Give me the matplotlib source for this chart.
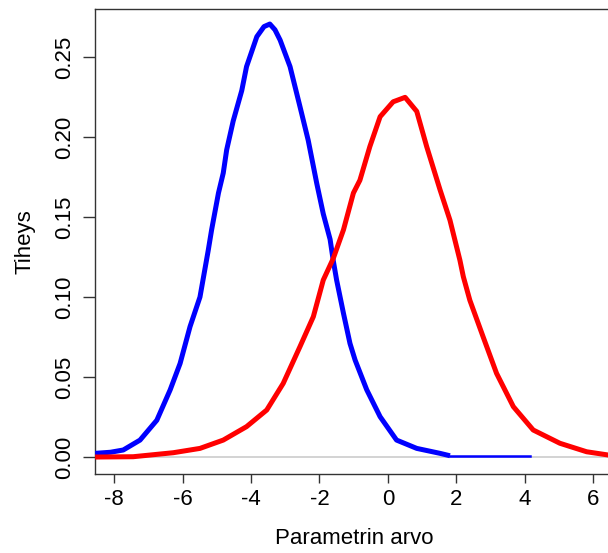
import matplotlib
matplotlib.use("Agg")
import matplotlib.pyplot as plt

plt.rcParams['font.family'] = ['Liberation Sans', 'DejaVu Sans']

# Blue density
blue_x = [-8.55, -8.1, -7.73, -7.24, -6.75, -6.36, -6.07, -5.78, -5.49, -5.25, -5.15, -4.95, -4.81,
          -4.71, -4.52, -4.27, -4.13, -3.83, -3.62, -3.45, -3.30, -3.15, -2.86, -2.57, -2.33, -2.08, -1.89,
          -1.69, -1.60, -1.50, -1.30, -1.11, -0.96, -0.62, -0.23, 0.25, 0.84, 1.52, 1.81]
blue_y = [0.0023, 0.0030, 0.0044, 0.0106, 0.023, 0.042, 0.0585, 0.0815, 0.100, 0.129, 0.142, 0.165, 0.1775,
          0.192, 0.210, 0.229, 0.244, 0.2627, 0.2690, 0.2706, 0.2670, 0.2606, 0.244, 0.219, 0.198, 0.171, 0.152,
          0.136, 0.123, 0.1106, 0.0898, 0.071, 0.0606, 0.042, 0.0252, 0.0106, 0.0054, 0.0023, 0.0008]
# Thin blue tail
blue_tail_x = [1.81, 4.15]
blue_tail_y = [0.0008, 0.0008]

# Red density
red_x = [-8.55, -7.44, -6.27, -5.49, -4.81, -4.13, -3.54, -3.06, -2.57, -2.18, -1.89, -1.60,
         -1.30, -1.01, -0.82, -0.53, -0.23, 0.15, 0.50, 0.84, 1.13, 1.52, 1.81, 2.10, 2.20,
         2.39, 2.78, 3.17, 3.66, 4.24, 5.02, 5.80, 6.42, 6.60]
red_y = [0.0, 0.0002, 0.0027, 0.0054, 0.0106, 0.019, 0.0294, 0.046, 0.069, 0.0877, 0.1106, 0.124,
         0.142, 0.165, 0.173, 0.194, 0.2127, 0.222, 0.2248, 0.216, 0.194, 0.167, 0.148, 0.123, 0.1127,
         0.098, 0.075, 0.0523, 0.0315, 0.0169, 0.0086, 0.0033, 0.0013, 0.0010]

x_ticks = [-8, -6, -4, -2, 0, 2, 4, 6]
y_ticks = [0.00, 0.05, 0.10, 0.15, 0.20, 0.25]
y_tick_labels = ["0.00", "0.05", "0.10", "0.15", "0.20", "0.25"]

W, H = 608, 553
fig = plt.figure(figsize=(W / 100, H / 100), dpi=100)
ax = fig.add_axes([95 / W, (H - 474) / H, 518 / W, 465 / H])

ax.axhline(0, color='#cccccc', lw=1.2, zorder=1)
ax.plot(blue_x, blue_y, color='#0000ff', lw=3.6, solid_joinstyle='round', solid_capstyle='butt', zorder=3)
ax.plot(blue_tail_x, blue_tail_y, color='#0000ff', lw=1.8, zorder=3)
ax.plot(red_x, red_y, color='#ff0000', lw=3.6, solid_joinstyle='round', solid_capstyle='butt', zorder=3)

ax.set_xlim(-8.555, 6.57)
ax.set_ylim(-0.0106, 0.28)
ax.set_xticks(x_ticks)
ax.set_xticklabels([str(v) for v in x_ticks])
ax.set_yticks(y_ticks)
ax.set_yticklabels(y_tick_labels, rotation=90, va='center')

for s in ax.spines.values():
    s.set_color('#333333')
    s.set_linewidth(1.0)

ax.tick_params(axis='both', direction='out', width=1.0, color='#333333',
               labelsize=16, labelcolor='black')
ax.tick_params(axis='x', length=6.5, pad=4.3)
ax.tick_params(axis='y', length=8.4, pad=5.8)

ax.set_xlabel('Parametrin arvo', fontsize=16, va='center')
ax.xaxis.set_label_coords(0.5, -0.139)
ax.set_ylabel('Tiheys', fontsize=16, va='center')
ax.yaxis.set_label_coords(-0.135, 0.5)

fig.savefig('out.png', dpi=100)
